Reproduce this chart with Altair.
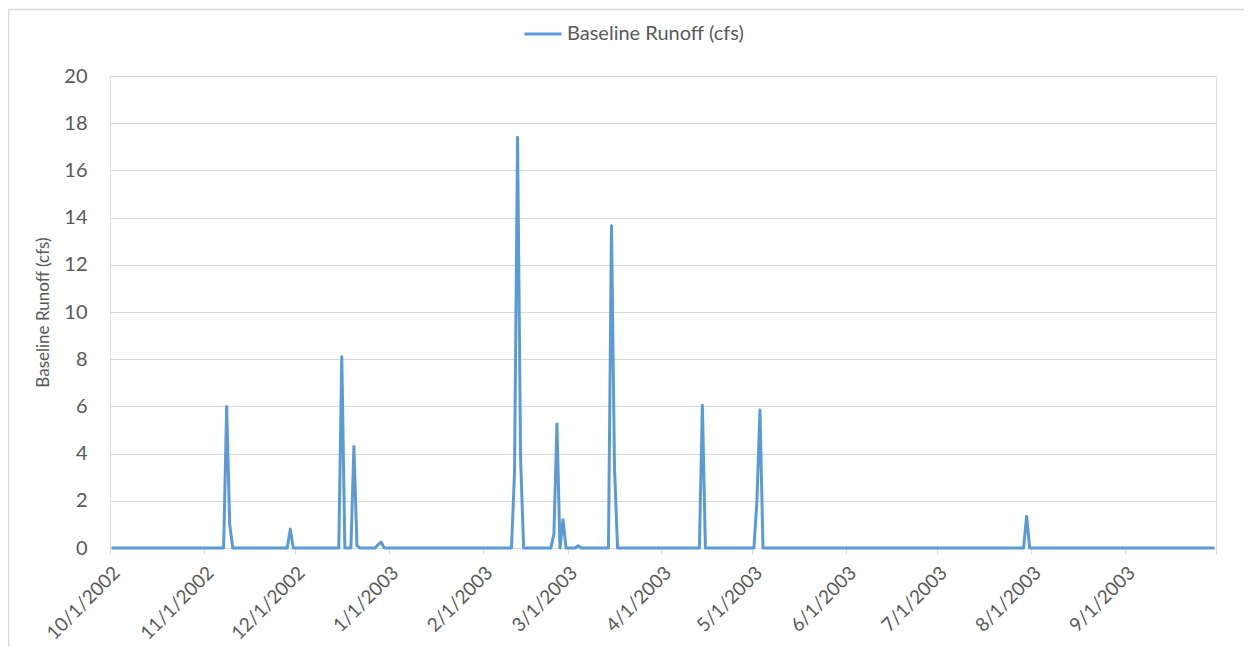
import altair as alt
import pandas as pd

# ---- data ----
series_name = "Baseline Runoff (cfs)"
start_date = "2002-10-01"
end_date = "2003-09-30"

spike_dates = [
    "2002-11-08", "2002-11-09", "2002-11-29",
    "2002-12-16", "2002-12-20", "2002-12-21", "2002-12-28", "2002-12-29",
    "2003-02-11", "2003-02-12", "2003-02-13",
    "2003-02-24", "2003-02-25", "2003-02-27", "2003-03-04",
    "2003-03-15", "2003-03-16",
    "2003-04-14",
    "2003-05-02", "2003-05-03",
    "2003-07-30",
]
spike_values = [
    6.0, 1.0, 0.8,
    8.1, 4.3, 0.1, 0.15, 0.25,
    3.2, 17.4, 3.8,
    0.6, 5.25, 1.2, 0.1,
    13.65, 3.4,
    6.05,
    2.0, 5.85,
    1.35,
]

tick_dates = [
    (2002, 10), (2002, 11), (2002, 12), (2003, 1), (2003, 2), (2003, 3),
    (2003, 4), (2003, 5), (2003, 6), (2003, 7), (2003, 8), (2003, 9), (2003, 10),
]
y_ticks = [0, 2, 4, 6, 8, 10, 12, 14, 16, 18, 20]

# ---- build the daily table (flat zero except for the read spikes) ----
days = pd.date_range(start_date, end_date, freq="D")
vals = {d: 0.0 for d in days.strftime("%Y-%m-%d")}
for d, v in zip(spike_dates, spike_values):
    vals[d] = v
df = pd.DataFrame({
    "date": [d + "T12:00:00" for d in vals.keys()],
    "value": list(vals.values()),
    "series": series_name,
})

FONT = "Lato"
TXT = "#595959"
GRID = "#d9d9d9"
BLUE = "#5B9BD5"

x_axis = alt.Axis(
    values=[alt.DateTime(year=y, month=m, date=1) for y, m in tick_dates],
    format="%-m/%-d/%Y",
    labelExpr="(year(datum.value) == 2003 && month(datum.value) == 9) ? '' : datum.label",
    labelAngle=-45,
    labelAlign="right",
    labelBaseline="top",
    labelPadding=9,
    labelFontSize=19,
    labelColor=TXT,
    labelFont=FONT,
    grid=False,
    domainColor=GRID,
    tickColor=GRID,
    tickSize=6,
    labelOverlap=False,
    title=None,
)

y_axis = alt.Axis(
    values=y_ticks,
    labelFontSize=20,
    labelColor=TXT,
    labelFont=FONT,
    labelPadding=23,
    ticks=False,
    domain=False,
    grid=True,
    gridColor=GRID,
    gridWidth=1,
    title=series_name,
    titleFont=FONT,
    titleFontSize=17,
    titleFontWeight="normal",
    titleColor=TXT,
    titlePadding=11,
)

line = alt.Chart(df).mark_line(strokeWidth=3, strokeJoin="round").encode(
    x=alt.X(
        "date:T",
        scale=alt.Scale(domain=[alt.DateTime(year=2002, month=10, date=1),
                                alt.DateTime(year=2003, month=10, date=1)]),
        axis=x_axis,
    ),
    y=alt.Y("value:Q", scale=alt.Scale(domain=[0, 20], nice=False), axis=y_axis),
    color=alt.Color(
        "series:N",
        scale=alt.Scale(range=[BLUE]),
        legend=alt.Legend(
            orient="none",
            legendX=413,
            legendY=-62,
            title=None,
            symbolType="stroke",
            symbolStrokeWidth=3,
            symbolSize=1369,
            labelFont=FONT,
            labelFontSize=20,
            labelColor=TXT,
            labelLimit=0,
        ),
    ),
)

# chart-area border (decorative frame, as in the spreadsheet export)
frame = alt.Chart(pd.DataFrame({"f": [0]})).mark_rect(
    filled=False, stroke=GRID, strokeWidth=1.5, clip=False
).encode(
    x=alt.value(-101.5), x2=alt.value(1160),
    y=alt.value(-66.5), y2=alt.value(600),
)

chart = alt.layer(frame, line).properties(
    width=1106,
    height=472,
    autosize=alt.AutoSizeParams(type="none"),
    padding={"left": 102, "top": 68, "right": 28, "bottom": 99},
).configure_view(stroke=None).configure(background="white")

chart.save("out.html", embed_options={"renderer": "svg", "actions": False})
